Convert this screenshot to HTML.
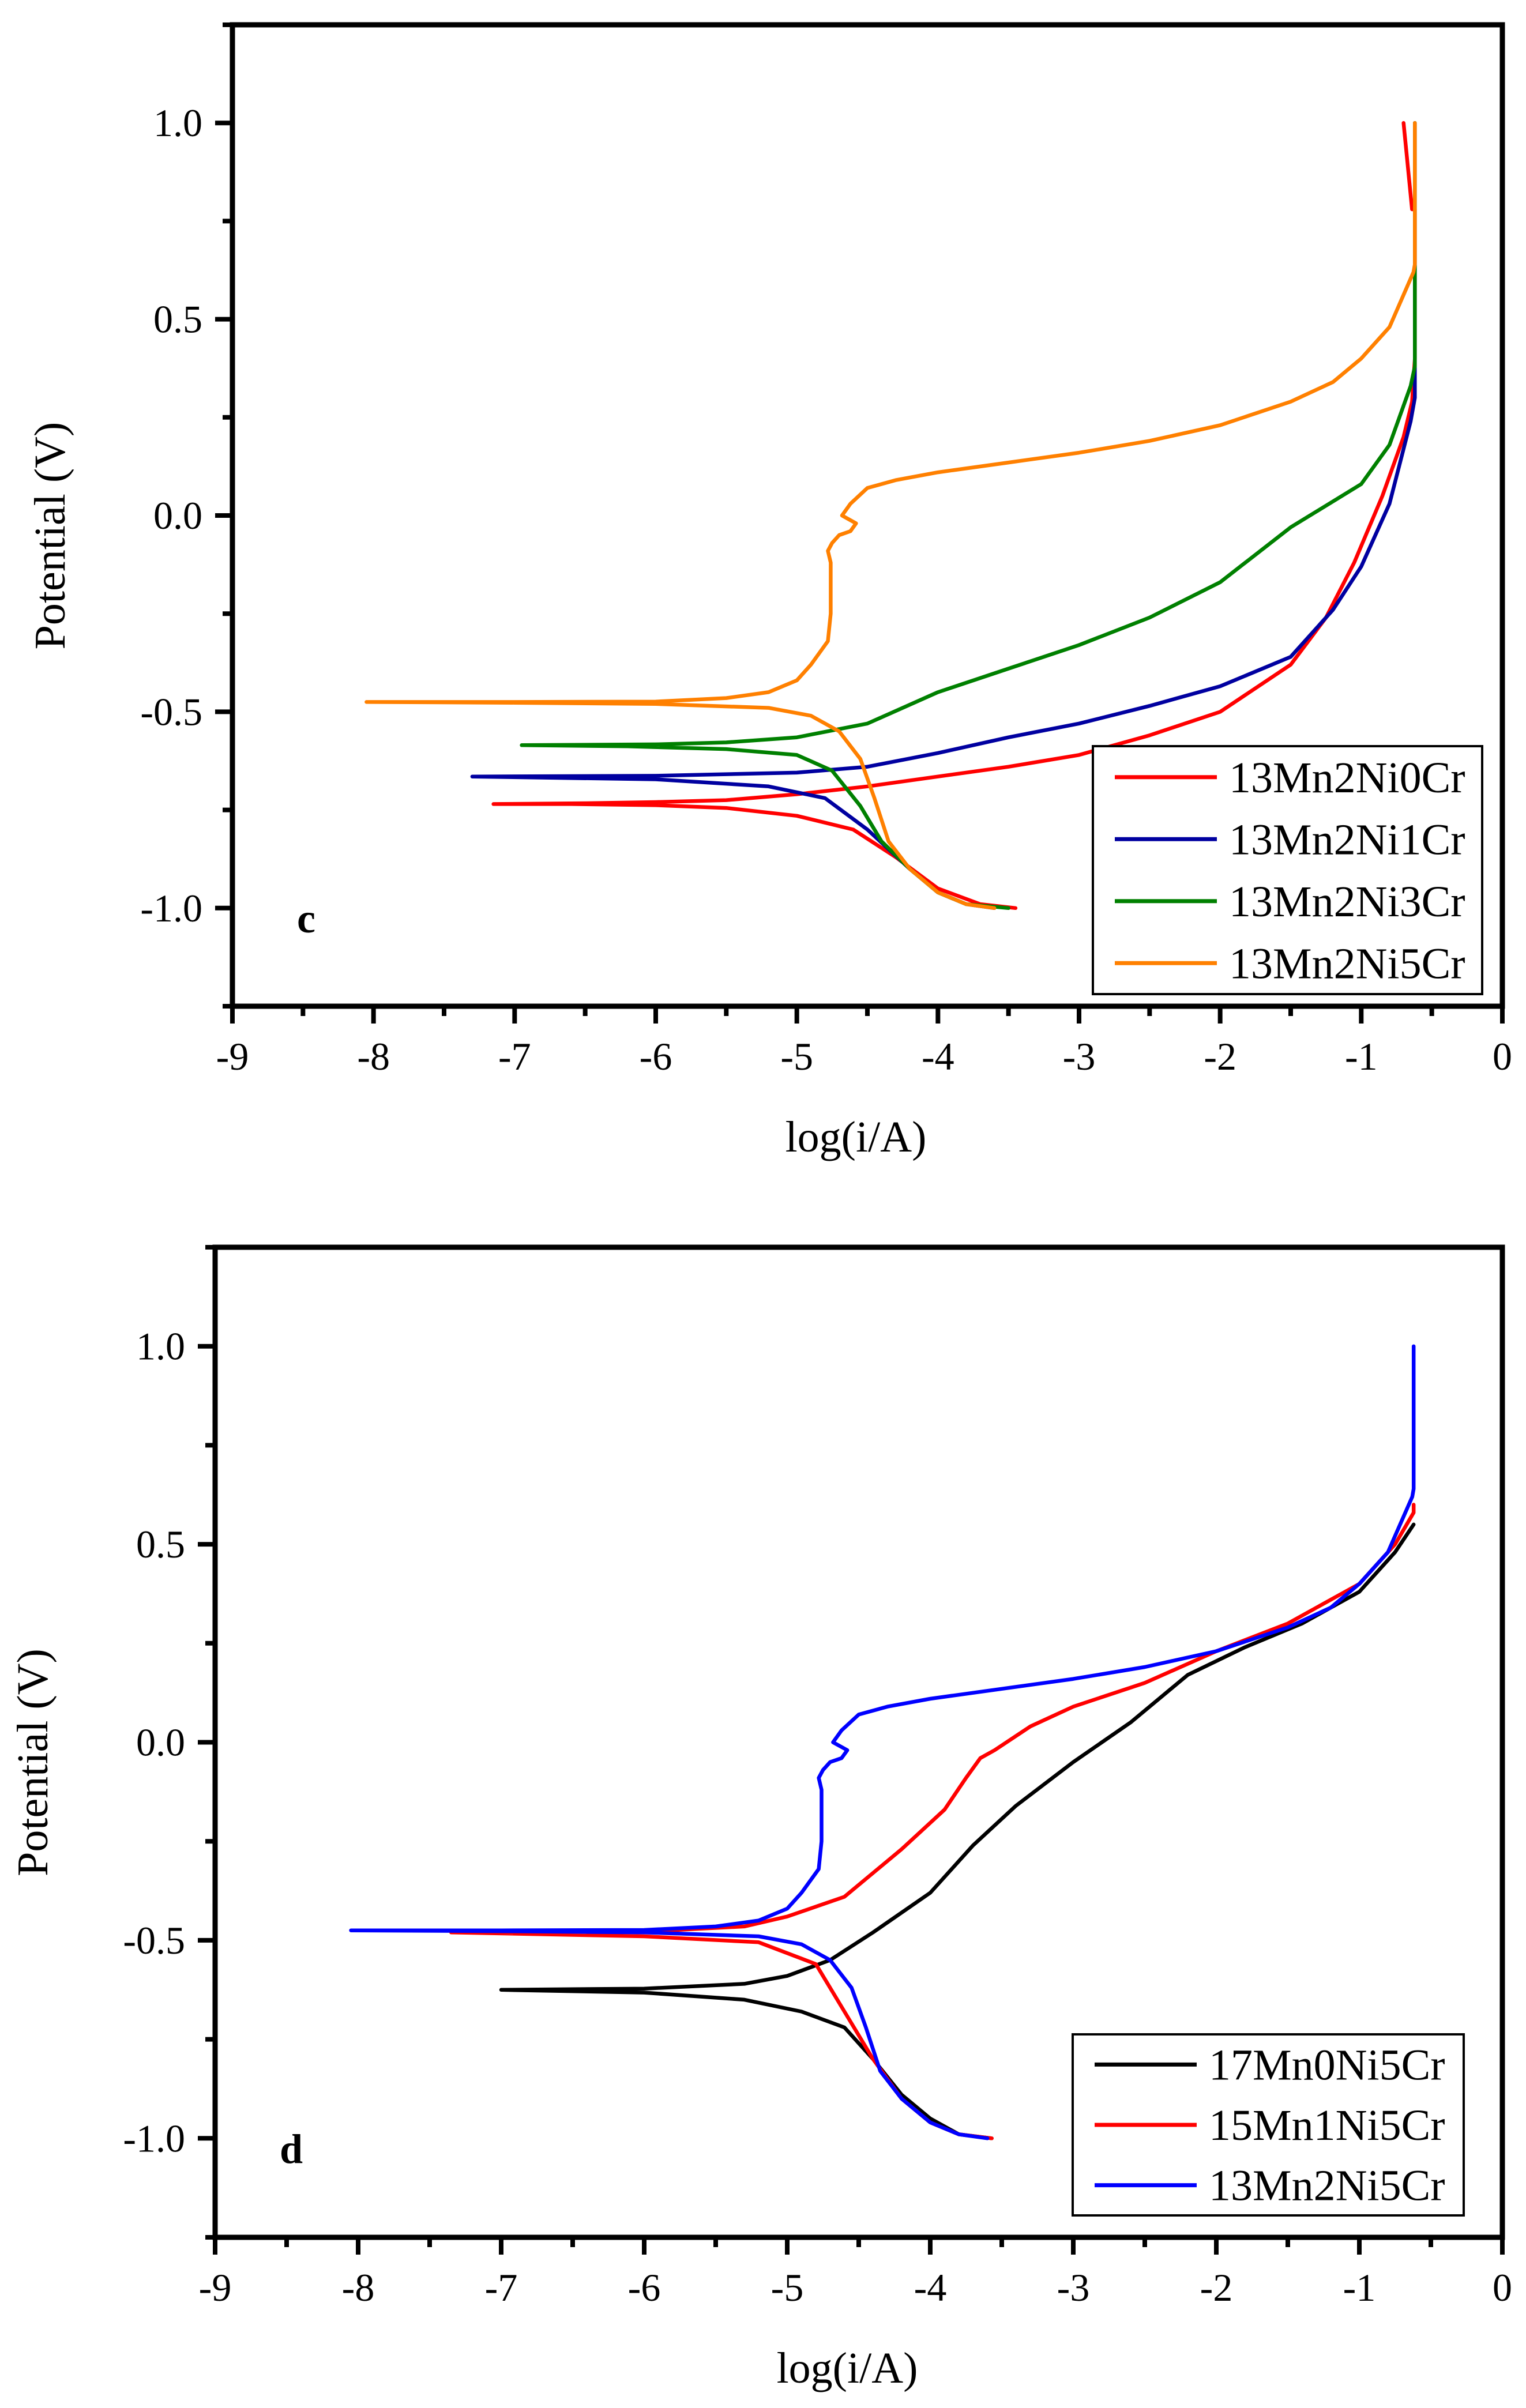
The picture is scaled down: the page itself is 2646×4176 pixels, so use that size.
<!DOCTYPE html>
<html><head><meta charset="utf-8"><style>
html,body{margin:0;padding:0;background:#fff}
svg{display:block;font-family:"Liberation Serif",serif}
</style></head><body>
<svg id="chart" width="2646" height="4176" viewBox="0 0 2646 4176" xmlns="http://www.w3.org/2000/svg"></svg>
<script>
// ---- data (log(i/A), Potential V) ----
const xTicks = [-9,-8,-7,-6,-5,-4,-3,-2,-1,0];
const yTicks = [-1.0,-0.5,0.0,0.5,1.0];
const yTickLabels = ["-1.0","-0.5","0.0","0.5","1.0"];
const seriesNamesC = ["13Mn2Ni0Cr","13Mn2Ni1Cr","13Mn2Ni3Cr","13Mn2Ni5Cr"];
const seriesNamesD = ["17Mn0Ni5Cr","15Mn1Ni5Cr","13Mn2Ni5Cr"];
const c0x = [-3.45,-3.7,-4.0,-4.3,-4.6,-5.0,-5.5,-6.0,-6.6,-7.15,-6.5,-6.0,-5.5,-5.0,-4.5,-4.0,-3.5,-3.0,-2.5,-2.0,-1.5,-1.25,-1.05,-0.85,-0.7,-0.64,-0.62,-0.62,-0.64,-0.7];
const c0y = [-1.0,-0.99,-0.95,-0.87,-0.80,-0.765,-0.745,-0.738,-0.735,-0.735,-0.733,-0.73,-0.725,-0.71,-0.69,-0.665,-0.64,-0.61,-0.56,-0.5,-0.38,-0.26,-0.12,0.05,0.2,0.29,0.4,0.78,0.78,1.0];
const c1x = [-3.6,-3.8,-4.0,-4.2,-4.5,-4.8,-5.2,-6.0,-7.3,-6.0,-5.0,-4.5,-4.0,-3.5,-3.0,-2.5,-2.0,-1.5,-1.2,-1.0,-0.8,-0.65,-0.62,-0.62];
const c1y = [-1.0,-0.99,-0.96,-0.9,-0.8,-0.72,-0.69,-0.672,-0.665,-0.663,-0.655,-0.64,-0.605,-0.565,-0.53,-0.485,-0.435,-0.36,-0.24,-0.13,0.03,0.24,0.3,1.0];
const c2x = [-3.5,-3.8,-4.0,-4.2,-4.4,-4.55,-4.75,-5.0,-5.5,-6.2,-6.95,-6.0,-5.5,-5.0,-4.5,-4.0,-3.5,-3.0,-2.5,-2.0,-1.5,-1.0,-0.8,-0.65,-0.62,-0.62];
const c2y = [-1.0,-0.99,-0.96,-0.9,-0.83,-0.74,-0.65,-0.61,-0.595,-0.588,-0.585,-0.583,-0.578,-0.565,-0.53,-0.45,-0.39,-0.33,-0.26,-0.17,-0.03,0.08,0.18,0.33,0.38,1.0];
const c3x = [-3.6,-3.8,-4.0,-4.2,-4.35,-4.45,-4.55,-4.7,-4.9,-5.2,-6.0,-7.0,-8.05,-7.0,-6.0,-5.5,-5.2,-5.0,-4.9,-4.78,-4.76,-4.76,-4.78,-4.75,-4.7,-4.62,-4.58,-4.68,-4.62,-4.5,-4.3,-4.0,-3.5,-3.0,-2.5,-2.0,-1.5,-1.2,-1.0,-0.8,-0.63,-0.62,-0.62];
const c3y = [-1.0,-0.99,-0.96,-0.9,-0.83,-0.72,-0.62,-0.55,-0.51,-0.49,-0.48,-0.477,-0.475,-0.475,-0.474,-0.465,-0.45,-0.42,-0.38,-0.32,-0.25,-0.12,-0.09,-0.07,-0.05,-0.04,-0.02,0.0,0.03,0.07,0.09,0.11,0.135,0.16,0.19,0.23,0.29,0.34,0.4,0.48,0.62,0.64,1.0];
const d0x = [-3.57,-3.8,-4.0,-4.2,-4.4,-4.6,-4.9,-5.3,-6.0,-7.0,-6.0,-5.3,-5.0,-4.7,-4.4,-4.0,-3.7,-3.4,-3.0,-2.6,-2.2,-1.8,-1.4,-1.0,-0.75,-0.62];
const d0y = [-1.0,-0.99,-0.95,-0.89,-0.8,-0.72,-0.68,-0.65,-0.632,-0.625,-0.622,-0.61,-0.59,-0.55,-0.48,-0.38,-0.26,-0.16,-0.05,0.05,0.17,0.24,0.3,0.38,0.48,0.55];
const d1x = [-3.57,-3.8,-4.0,-4.2,-4.4,-4.6,-4.8,-5.2,-6.0,-7.35,-6.0,-5.3,-5.0,-4.6,-4.2,-3.9,-3.75,-3.65,-3.55,-3.3,-3.0,-2.5,-2.0,-1.5,-1.0,-0.75,-0.62,-0.62];
const d1y = [-1.0,-0.99,-0.96,-0.9,-0.8,-0.68,-0.56,-0.505,-0.49,-0.48,-0.478,-0.465,-0.44,-0.39,-0.27,-0.17,-0.09,-0.04,-0.02,0.04,0.09,0.15,0.23,0.3,0.4,0.5,0.58,0.6];
const d2x = c3x.slice(), d2y = c3y.slice();

const NS="http://www.w3.org/2000/svg";
const svg=document.getElementById('chart');
function el(tag,attrs,parent){const e=document.createElementNS(NS,tag);for(const k in attrs)e.setAttribute(k,attrs[k]);(parent||svg).appendChild(e);return e;}

function panel(cfg){
  const g=el('g',{});
  
  
  const X=v=>cfg.x0+(v+9)/9*(cfg.x1-cfg.x0);
  const Y=v=>cfg.yTop+(1.25-v)/2.5*(cfg.yBot-cfg.yTop);
  cfg.series.forEach((s,i)=>{
    let d='';
    for(let k=0;k<s.x.length;k++)d+=(k?'L':'M')+X(s.x[k]).toFixed(1)+' '+Y(s.y[k]).toFixed(1);
    const p=el('path',{d:d,fill:'none',stroke:s.color,'stroke-width':6.5,'stroke-linejoin':'round','stroke-linecap':'round'},g);
    
    
  });
  const fr=el('rect',{x:cfg.x0,y:cfg.yTop,width:cfg.x1-cfg.x0,height:cfg.yBot-cfg.yTop,fill:'none',stroke:'#000','stroke-width':9},g);
  
  
  xTicks.forEach((t,i)=>{
    el('line',{x1:X(t),x2:X(t),y1:cfg.yBot,y2:cfg.yBot+30,stroke:'#000','stroke-width':8},g);
    if(i<xTicks.length-1)el('line',{x1:X(t+0.5),x2:X(t+0.5),y1:cfg.yBot,y2:cfg.yBot+17,stroke:'#000','stroke-width':8},g);
    const tx=el('text',{x:X(t),y:cfg.yBot+110,'font-size':68,'text-anchor':'middle'},g);
    tx.textContent=String(t);
    
    
  });
  yTicks.forEach((t,i)=>{
    el('line',{x1:cfg.x0-30,x2:cfg.x0,y1:Y(t),y2:Y(t),stroke:'#000','stroke-width':8},g);
    const ty=el('text',{x:cfg.x0-52,y:Y(t)+23,'font-size':68,'text-anchor':'end'},g);
    ty.textContent=yTickLabels[i];
    
    
  });
  [-1.25,-0.75,-0.25,0.25,0.75,1.25].forEach(t=>{
    el('line',{x1:cfg.x0-17,x2:cfg.x0,y1:Y(t),y2:Y(t),stroke:'#000','stroke-width':8},g);
  });
  const xl=el('text',{x:(cfg.x0+cfg.x1)/2-20,y:cfg.yBot+252,'font-size':76,'text-anchor':'middle'},g);
  xl.textContent='log(i/A)';
  
  
  const yx=cfg.ylx, yy=(cfg.yTop+cfg.yBot)/2+35;
  const yl=el('text',{x:yx,y:yy,'font-size':76,'text-anchor':'middle',transform:`rotate(-90 ${yx} ${yy})`},g);
  yl.textContent='Potential (V)';
  
  
  const pl=el('text',{x:cfg.x0+112,y:Y(-1.03)+22,'font-size':72,'font-weight':'bold'},g);
  pl.textContent=cfg.tag;
  
  
  const L=cfg.legend;
  const lb=el('rect',{x:L.x,y:L.y,width:L.w,height:L.h,fill:'#fff',stroke:'#000','stroke-width':4},g);
  
  
  cfg.series.forEach((s,i)=>{
    const cy=L.y+L.h/(cfg.series.length)*(i+0.5);
    const ln=el('line',{x1:L.x+38,x2:L.x+215,y1:cy,y2:cy,stroke:s.color,'stroke-width':7},g);
    
    
    const t=el('text',{x:L.x+236,y:cy+26,'font-size':76},g);
    t.textContent=s.label;
    
    
  });
}

panel({name:'chart-c',tag:'c',x0:403,x1:2605,yTop:43,yBot:1745,ylx:112,
  legend:{x:1895,y:1294,w:675,h:430},
  series:[{label:seriesNamesC[0],color:'#ff0000',x:c0x,y:c0y},{label:seriesNamesC[1],color:'#0000a0',x:c1x,y:c1y},{label:seriesNamesC[2],color:'#008000',x:c2x,y:c2y},{label:seriesNamesC[3],color:'#ff8000',x:c3x,y:c3y}]});
panel({name:'chart-d',tag:'d',x0:373,x1:2605,yTop:2163,yBot:3880,ylx:82,
  legend:{x:1860,y:3528,w:678,h:314},
  series:[{label:seriesNamesD[0],color:'#000000',x:d0x,y:d0y},{label:seriesNamesD[1],color:'#ff0000',x:d1x,y:d1y},{label:seriesNamesD[2],color:'#0000ff',x:d2x,y:d2y}]});
</script>
</body></html>
